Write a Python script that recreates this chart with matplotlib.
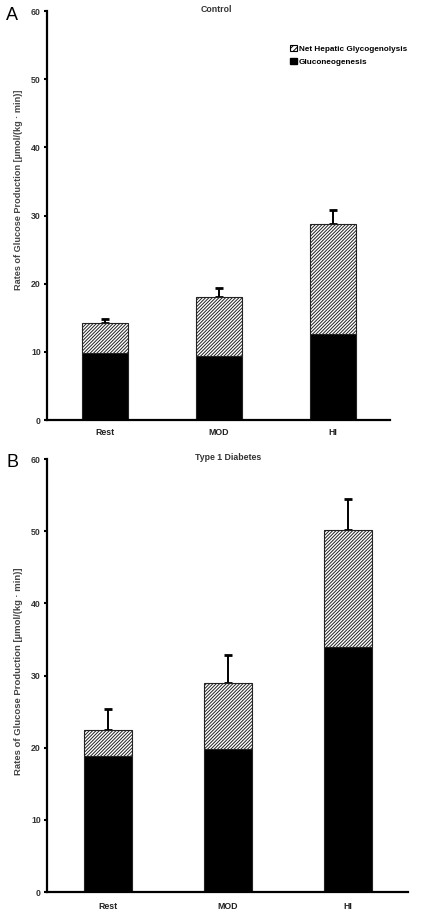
import matplotlib
matplotlib.use("Agg")
import matplotlib.pyplot as plt
import numpy as np
from matplotlib.patches import Patch

plt.rcParams['font.family'] = ['Liberation Sans', 'DejaVu Sans']
plt.rcParams['hatch.linewidth'] = 0.7

categories = ["Rest", "MOD", "HI"]
yticks = [0, 10, 20, 30, 40, 50, 60]

# Panel A: Control
ctrl_gng = [9.8, 9.4, 12.6]
ctrl_glyc = [4.5, 8.6, 16.2]
ctrl_err = [0.45, 1.3, 2.0]

# Panel B: Type 1 Diabetes
t1d_gng = [18.8, 19.8, 33.9]
t1d_glyc = [3.6, 9.1, 16.2]
t1d_err = [3.0, 3.9, 4.3]

HATCH = '/' * 10

W, H = 433, 915
fig = plt.figure(figsize=(W / 100, H / 100), dpi=100)


def rect(x0, y0, x1, y1):
    return [x0 / W, 1 - y1 / H, (x1 - x0) / W, (y1 - y0) / H]


def fx(x):
    return x / W


def fy(y):
    return 1 - y / H


def panel(ax, gng, glyc, err, xpad):
    x = np.arange(len(categories))
    ax.bar(x, gng, width=0.4, color='black', edgecolor='#222222', linewidth=0.8, zorder=2)
    ax.bar(x, glyc, width=0.4, bottom=gng, color='white', edgecolor='#222222',
           hatch=HATCH, linewidth=0.8, zorder=2)
    tops = np.array(gng) + np.array(glyc)
    ax.errorbar(x, tops, yerr=[np.zeros(len(err)), err], fmt='none', ecolor='black',
                elinewidth=1.4, capsize=3.2, capthick=2, zorder=1)
    ax.set_xlim(-0.51, 2.5)
    ax.set_ylim(0, 60)
    ax.set_yticks(yticks)
    ax.set_yticklabels([str(t) for t in yticks], fontsize=6.3, fontweight='bold', color='#333333')
    ax.set_xticks(x)
    ax.set_xticklabels(categories, fontsize=6.3, fontweight='bold', color='#222222')
    ax.tick_params(axis='x', length=0, pad=xpad)
    ax.tick_params(axis='y', length=2.5, width=1.5, pad=2, direction='out')
    for s in ['top', 'right']:
        ax.spines[s].set_visible(False)
    for s in ['left', 'bottom']:
        ax.spines[s].set_linewidth(1.6)
        ax.spines[s].set_color('black')


axA = fig.add_axes(rect(47, 11, 390, 420))
panel(axA, ctrl_gng, ctrl_glyc, ctrl_err, 5.5)
axB = fig.add_axes(rect(47, 459, 408, 892))
panel(axB, t1d_gng, t1d_glyc, t1d_err, 7.5)

fig.text(fx(216), fy(10), "Control", fontsize=6.3, fontweight='bold', color='#333333',
         ha='center', va='center')
fig.text(fx(228), fy(458), "Type 1 Diabetes", fontsize=6.3, fontweight='bold', color='#333333',
         ha='center', va='center')

ylabel = "Rates of Glucose Production [\u00b5mol/(kg \u00b7 min)]"
fig.text(fx(19), fy(190), ylabel, rotation=90, fontsize=6.6, fontweight='bold',
         color='#444444', ha='center', va='center')
fig.text(fx(19), fy(671), ylabel, rotation=90, fontsize=6.8, fontweight='bold',
         color='#444444', ha='center', va='center')

fig.text(fx(12), fy(15), "A", fontsize=13, ha='center', va='center', color='black')
fig.text(fx(12), fy(463), "B", fontsize=13, ha='center', va='center', color='black')

handles = [Patch(facecolor='white', edgecolor='black', hatch='//////', linewidth=0.8),
           Patch(facecolor='black', edgecolor='black')]
axA.legend(handles, ["Net Hepatic Glycogenolysis", "Gluconeogenesis"],
           loc='upper left', bbox_to_anchor=((290 - 47) / 343, 1 - (45 - 11) / 409),
           frameon=False, prop={'size': 5.9, 'weight': 'bold'},
           handlelength=0.8, handleheight=0.8, handletextpad=0.3,
           labelspacing=0.6, borderpad=0, borderaxespad=0)

fig.savefig("out.png", dpi=100)
